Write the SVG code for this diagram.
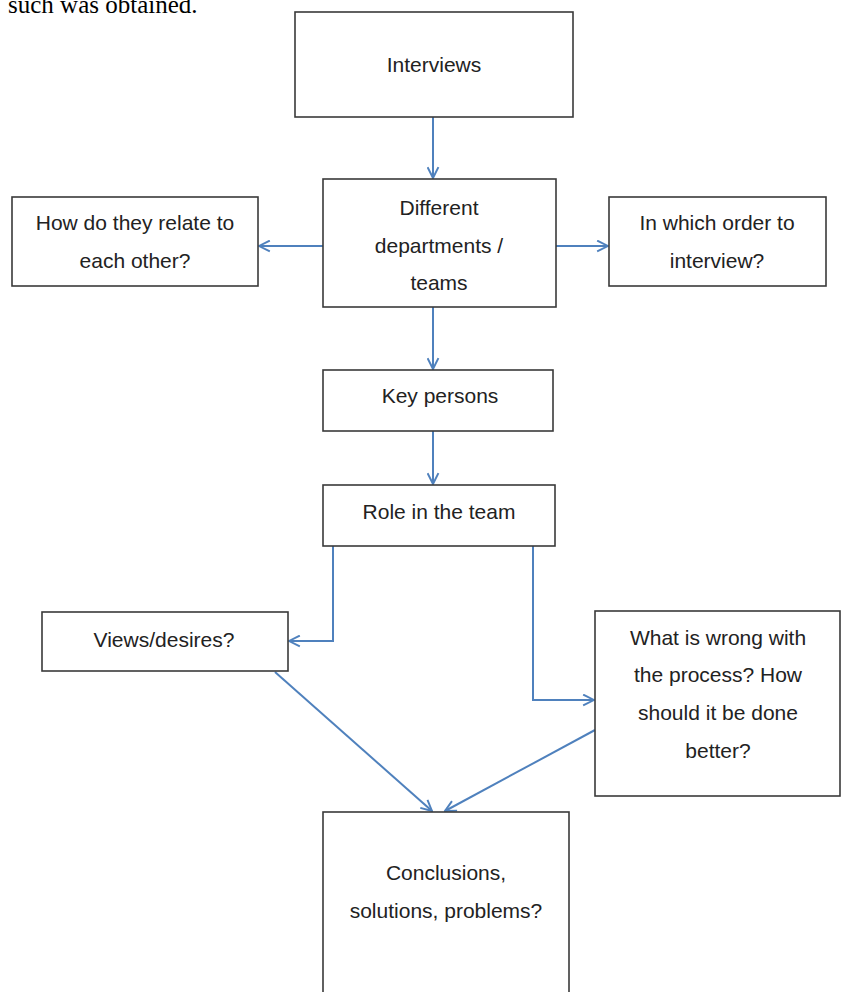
<svg xmlns="http://www.w3.org/2000/svg" width="842" height="992" viewBox="0 0 842 992">
<style>
.box{fill:#fff;stroke:#3a3a3a;stroke-width:1.6}
.t{font-family:"Liberation Sans",Arial,sans-serif;font-size:21px;fill:#222;text-anchor:middle}
.c{fill:none;stroke:#4f81bd;stroke-width:2}
.cap{font-family:"Liberation Serif","Times New Roman",serif;font-size:25px;fill:#000}
</style>
<defs>
<marker id="ah" viewBox="0 0 12 12" refX="11" refY="6" markerWidth="13" markerHeight="13" markerUnits="userSpaceOnUse" orient="auto">
<path d="M1,1 L11,6 L1,11" fill="none" stroke="#4f81bd" stroke-width="1.8"/>
</marker>
</defs>
<rect width="842" height="992" fill="#fff"/>
<text class="cap" x="8" y="13">such was obtained.</text>
<g id="connectors">
<line class="c" x1="433" y1="117" x2="433" y2="178" marker-end="url(#ah)"/>
<line class="c" x1="323" y1="246" x2="259" y2="246" marker-end="url(#ah)"/>
<line class="c" x1="556" y1="246" x2="608" y2="246" marker-end="url(#ah)"/>
<line class="c" x1="433" y1="307" x2="433" y2="369" marker-end="url(#ah)"/>
<line class="c" x1="433" y1="431" x2="433" y2="484" marker-end="url(#ah)"/>
<polyline class="c" points="333,546 333,641 289,641" marker-end="url(#ah)"/>
<polyline class="c" points="533,546 533,700 594,700" marker-end="url(#ah)"/>
<line class="c" x1="275" y1="672" x2="432" y2="811" marker-end="url(#ah)"/>
<line class="c" x1="595" y1="730" x2="445" y2="811" marker-end="url(#ah)"/>
</g>
<g id="interviews"><rect class="box" x="295" y="12" width="278" height="105"/><text class="t" x="434" y="72">Interviews</text></g>
<g id="departments"><rect class="box" x="323" y="179" width="233" height="128"/><text class="t" x="439" y="215">Different</text><text class="t" x="439" y="253">departments /</text><text class="t" x="439" y="290">teams</text></g>
<g id="relate"><rect class="box" x="12" y="197" width="246" height="89"/><text class="t" x="135" y="230">How do they relate to</text><text class="t" x="135" y="268">each other?</text></g>
<g id="order"><rect class="box" x="609" y="197" width="217" height="89"/><text class="t" x="717" y="230">In which order to</text><text class="t" x="717" y="268">interview?</text></g>
<g id="keypersons"><rect class="box" x="323" y="370" width="230" height="61"/><text class="t" x="440" y="403">Key persons</text></g>
<g id="role"><rect class="box" x="323" y="485" width="232" height="61"/><text class="t" x="439" y="519">Role in the team</text></g>
<g id="views"><rect class="box" x="42" y="612" width="246" height="59"/><text class="t" x="164" y="647">Views/desires?</text></g>
<g id="wrong"><rect class="box" x="595" y="611" width="245" height="185"/><text class="t" x="718" y="645">What is wrong with</text><text class="t" x="718" y="682">the process? How</text><text class="t" x="718" y="720">should it be done</text><text class="t" x="718" y="758">better?</text></g>
<g id="conclusions"><rect class="box" x="323" y="812" width="246" height="190"/><text class="t" x="446" y="880">Conclusions,</text><text class="t" x="446" y="918">solutions, problems?</text></g>
</svg>
